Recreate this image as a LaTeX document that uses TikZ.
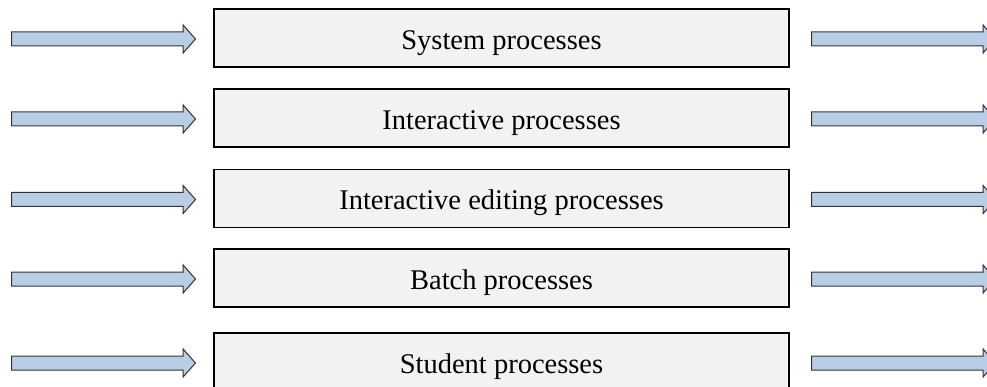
\documentclass[tikz,border=0pt]{standalone}
\usepackage{fontspec}
\setmainfont{Liberation Serif}
\usetikzlibrary{shapes.arrows}
\definecolor{boxfill}{HTML}{F2F2F2}
\definecolor{arrfill}{HTML}{B9CDE5}
\definecolor{arrline}{HTML}{333333}
\begin{document}
\begin{tikzpicture}[
  x=1pt, y=-1pt,
  % process boxes and the block arrows on both sides
  proc/.style={draw=black, line width=1.6pt, fill=boxfill,
    minimum width=575pt, minimum height=58pt, inner sep=0pt,
    text height=23pt, text depth=0pt,
    font=\fontsize{28.5}{34}\selectfont},
  flow/.style={single arrow, draw=arrline, line width=1pt, fill=arrfill,
    single arrow head extend=7pt, single arrow tip angle=97,
    single arrow head indent=0pt, text height=0pt, text depth=0pt,
    inner xsep=0pt, inner ysep=6.5pt, minimum height=184pt,
    anchor=tail}
]
\useasboundingbox (0,0) rectangle (987,387);
\clip (0,0) rectangle (987,387);
\foreach \yc/\txt/\i in {38/System processes/1,
    118/Interactive processes/2,
    198.5/Interactive editing processes/3,
    278/Batch processes/4,
    362/Student processes/5}{
  \node[proc] (box\i) at (501.5,\yc) {\txt};
  \node[flow] (in\i) at (11,\yc+1) {};
  \node[flow] (out\i) at (811,\yc+1) {};
}
\end{tikzpicture}
\end{document}
